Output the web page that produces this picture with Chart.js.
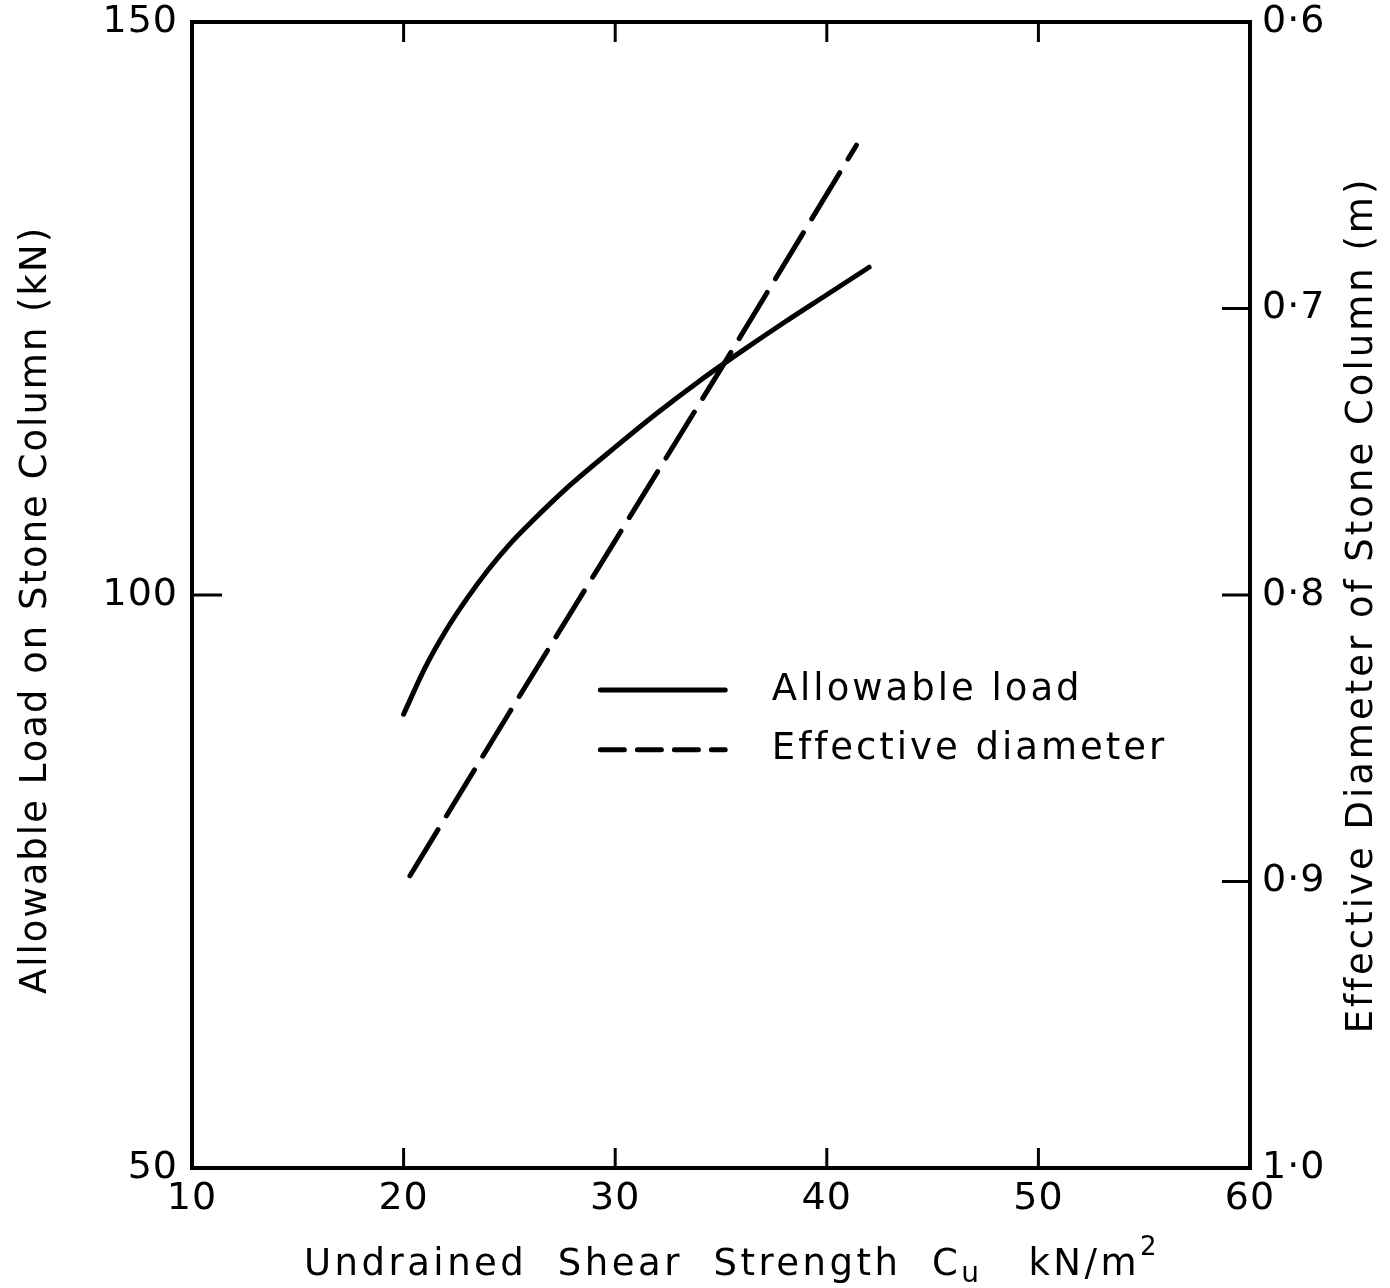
<!DOCTYPE html>
<html>
<head>
<meta charset="utf-8">
<script src="https://cdn.jsdelivr.net/npm/chart.js@4/dist/chart.umd.min.js"></script>
<style>
  html, body { margin: 0; padding: 0; background: #fff; }
  canvas { display: block; }
</style>
</head>
<body>
<canvas id="stoneChart" width="1390" height="1288"></canvas>
<script>
// Stone column chart: allowable load and effective diameter vs undrained shear strength
const loadCu = [20, 21, 22, 23, 24, 25, 26, 27, 28, 30, 32, 34, 36, 38, 40, 42];
const loadKN = [89.6, 93.6, 96.9, 99.7, 102.2, 104.4, 106.3, 108.1, 109.8, 112.9, 115.9, 118.7, 121.3, 123.8, 126.2, 128.6];

const diaCu = [20.3, 25, 30, 35, 41.4];
const diaM = [0.898, 0.841, 0.781, 0.721, 0.643];

const xTicks = [20, 30, 40, 50];
const yTicks = [100];
const y2Ticks = [0.7, 0.8, 0.9];

const seriesNames = ['Allowable load', 'Effective diameter'];

Chart.defaults.font.family = "'DejaVu Sans', sans-serif";
Chart.defaults.color = '#000';

const toPoints = (xs, ys) => xs.map((x, i) => ({ x: x, y: ys[i] }));

// fixed box sizes so the plot area sits where the original frame is
const fixV = w => s => { s.width = w; s.paddingTop = 0; s.paddingBottom = 0; };
const fixH = h => s => { s.height = h; s.paddingLeft = 0; s.paddingRight = 0; };

// frame, inward tick marks, titles and the in-plot legend
const decor = {
    id: 'decor',
    beforeDraw(chart) {
        // wider lettering for the tick labels as well
        chart.ctx.letterSpacing = '1px';
    },
    afterDraw(chart) {
        const { ctx, chartArea: a, scales } = chart;
        ctx.save();
        ctx.strokeStyle = '#000';
        ctx.fillStyle = '#000';
        ctx.lineCap = 'butt';

        ctx.lineWidth = 4;
        ctx.strokeRect(a.left, a.top, a.width, a.height);

        const line = (x1, y1, x2, y2) => {
            ctx.beginPath(); ctx.moveTo(x1, y1); ctx.lineTo(x2, y2); ctx.stroke();
        };
        ctx.lineWidth = 3;
        xTicks.forEach(v => {
            const px = scales.x.getPixelForValue(v);
            line(px, a.bottom, px, a.bottom - 20);
            line(px, a.top, px, a.top + 20);
        });
        yTicks.forEach(v => {
            const py = scales.y.getPixelForValue(v);
            line(a.left, py, a.left + 30, py);
        });
        y2Ticks.forEach(v => {
            const py = scales.y2.getPixelForValue(v);
            line(a.right, py, a.right - 28, py);
        });

        // legend inside plot
        ctx.font = "37px 'DejaVu Sans'";
        ctx.letterSpacing = '3px';
        ctx.textBaseline = 'middle';
        ctx.textAlign = 'left';
        const lx1 = a.left + 0.386 * a.width, lx2 = a.left + 0.504 * a.width;
        const tx = a.left + 0.548 * a.width;
        chart.data.datasets.forEach((ds, i) => {
            const ly = a.top + (0.583 + i * 0.052) * a.height;
            ctx.lineWidth = 5;
            ctx.lineCap = 'round';
            ctx.setLineDash(i === 0 ? [] : [24, 13]);
            line(lx1, ly, lx2, ly);
            ctx.setLineDash([]);
            ctx.fillText(ds.label, tx, ly);
        });

        // bottom title with subscript and superscript
        const runs = [
            { t: 'Undrained  Shear  Strength  C', s: 37, dy: 0 },
            { t: 'u', s: 28, dy: 10 },
            { t: '   kN/m', s: 37, dy: 0 },
            { t: '2', s: 26, dy: -17 }
        ];
        ctx.letterSpacing = '3.5px';
        let total = 0;
        runs.forEach(r => { ctx.font = r.s + "px 'DejaVu Sans'"; r.w = ctx.measureText(r.t).width; total += r.w; });
        let x = 732 - total / 2;
        runs.forEach(r => {
            ctx.font = r.s + "px 'DejaVu Sans'";
            ctx.fillText(r.t, x, 1265 + r.dy);
            x += r.w;
        });

        // vertical titles, both reading bottom to top
        ctx.textAlign = 'center';
        ctx.font = "37px 'DejaVu Sans'";
        const vtitle = (text, cx, cy, sp) => {
            ctx.save();
            ctx.letterSpacing = sp;
            ctx.translate(cx, cy);
            ctx.rotate(-Math.PI / 2);
            ctx.fillText(text, 0, 0);
            ctx.restore();
        };
        vtitle('Allowable Load on Stone Column (kN)', 36, 610, '2px');
        vtitle('Effective Diameter of Stone Column (m)', 1362, 605, '3px');
        ctx.restore();
    }
};

new Chart(document.getElementById('stoneChart'), {
    type: 'line',
    data: {
        datasets: [{
            label: seriesNames[0],
            data: toPoints(loadCu, loadKN),
            borderColor: '#000',
            borderWidth: 5,
            borderCapStyle: 'round',
            pointRadius: 0,
            cubicInterpolationMode: 'monotone',
            fill: false,
            yAxisID: 'y'
        }, {
            label: seriesNames[1],
            data: toPoints(diaCu, diaM),
            borderColor: '#000',
            borderWidth: 5,
            borderCapStyle: 'round',
            borderDash: [54, 16],
            pointRadius: 0,
            tension: 0,
            fill: false,
            yAxisID: 'y2'
        }]
    },
    options: {
        responsive: false,
        animation: false,
        devicePixelRatio: 1,
        layout: { padding: { top: 22, left: 0, right: 0, bottom: 0 } },
        plugins: {
            legend: { display: false },
            tooltip: { enabled: false }
        },
        scales: {
            x: {
                type: 'linear',
                position: 'bottom',
                min: 10, max: 60,
                ticks: { stepSize: 10, font: { size: 38 }, padding: 8, maxRotation: 0 },
                grid: { display: false, drawTicks: false },
                border: { display: false },
                afterFit: fixH(120)
            },
            y: {
                position: 'left',
                min: 50, max: 150,
                ticks: { stepSize: 50, font: { size: 38 }, padding: 14 },
                grid: { display: false, drawTicks: false },
                border: { display: false },
                afterFit: fixV(192)
            },
            y2: {
                position: 'right',
                min: 0.6, max: 1.0,
                reverse: true,
                ticks: {
                    stepSize: 0.1,
                    font: { size: 38 },
                    padding: 12,
                    callback: v => v.toFixed(1).replace('.', '·')
                },
                grid: { display: false, drawTicks: false },
                border: { display: false },
                afterFit: fixV(140)
            }
        }
    },
    plugins: [decor]
});
</script>
</body>
</html>
